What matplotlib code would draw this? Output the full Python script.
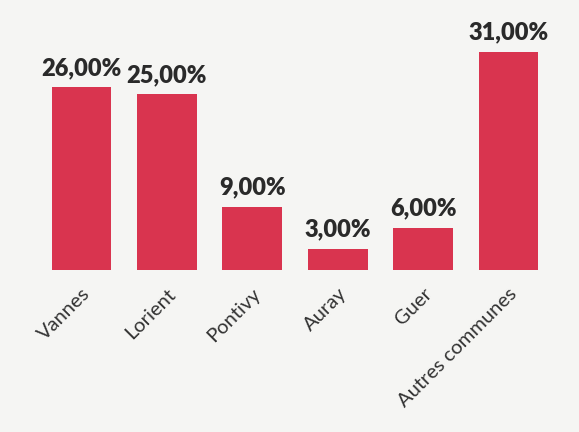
import matplotlib.pyplot as plt
import numpy as np

communes = ['Vannes', 'Lorient', 'Pontivy', 'Auray', 'Guer', 'Autres communes']
parts = [26, 25, 9, 3, 6, 31]
etiquettes = ['26,00%', '25,00%', '9,00%', '3,00%', '6,00%', '31,00%']

rouge = '#d9344f'
gris = '#333333'

fig = plt.figure(figsize=(5.79, 4.32), dpi=100)
fig.patch.set_facecolor('#f5f5f3')
ax = fig.add_axes([0, 0.375, 1, 0.625])
ax.set_facecolor('#f5f5f3')

x = np.arange(len(communes))
barres = ax.bar(x, parts, width=0.7, color=rouge)

for b, txt in zip(barres, etiquettes):
    ax.annotate(txt, (b.get_x() + b.get_width() / 2, b.get_height()),
                xytext=(0, 6), textcoords='offset points', ha='center', va='bottom',
                fontsize=17, fontweight='heavy', color='#2a2a2a', family='Lato')

ax.set_xlim(-81.5 / 85.4, (579 - 81.5) / 85.4)
ax.set_ylim(0, 38.4)
ax.set_xticks(x)
ax.set_xticklabels(communes, rotation=45, ha='right', rotation_mode='anchor',
                   fontsize=14.5, color=gris, family='Lato')
ax.tick_params(axis='x', length=0, pad=11)
ax.set_yticks([])
for s in ax.spines.values():
    s.set_visible(False)

fig.savefig('out.png', dpi=100, facecolor=fig.get_facecolor())
